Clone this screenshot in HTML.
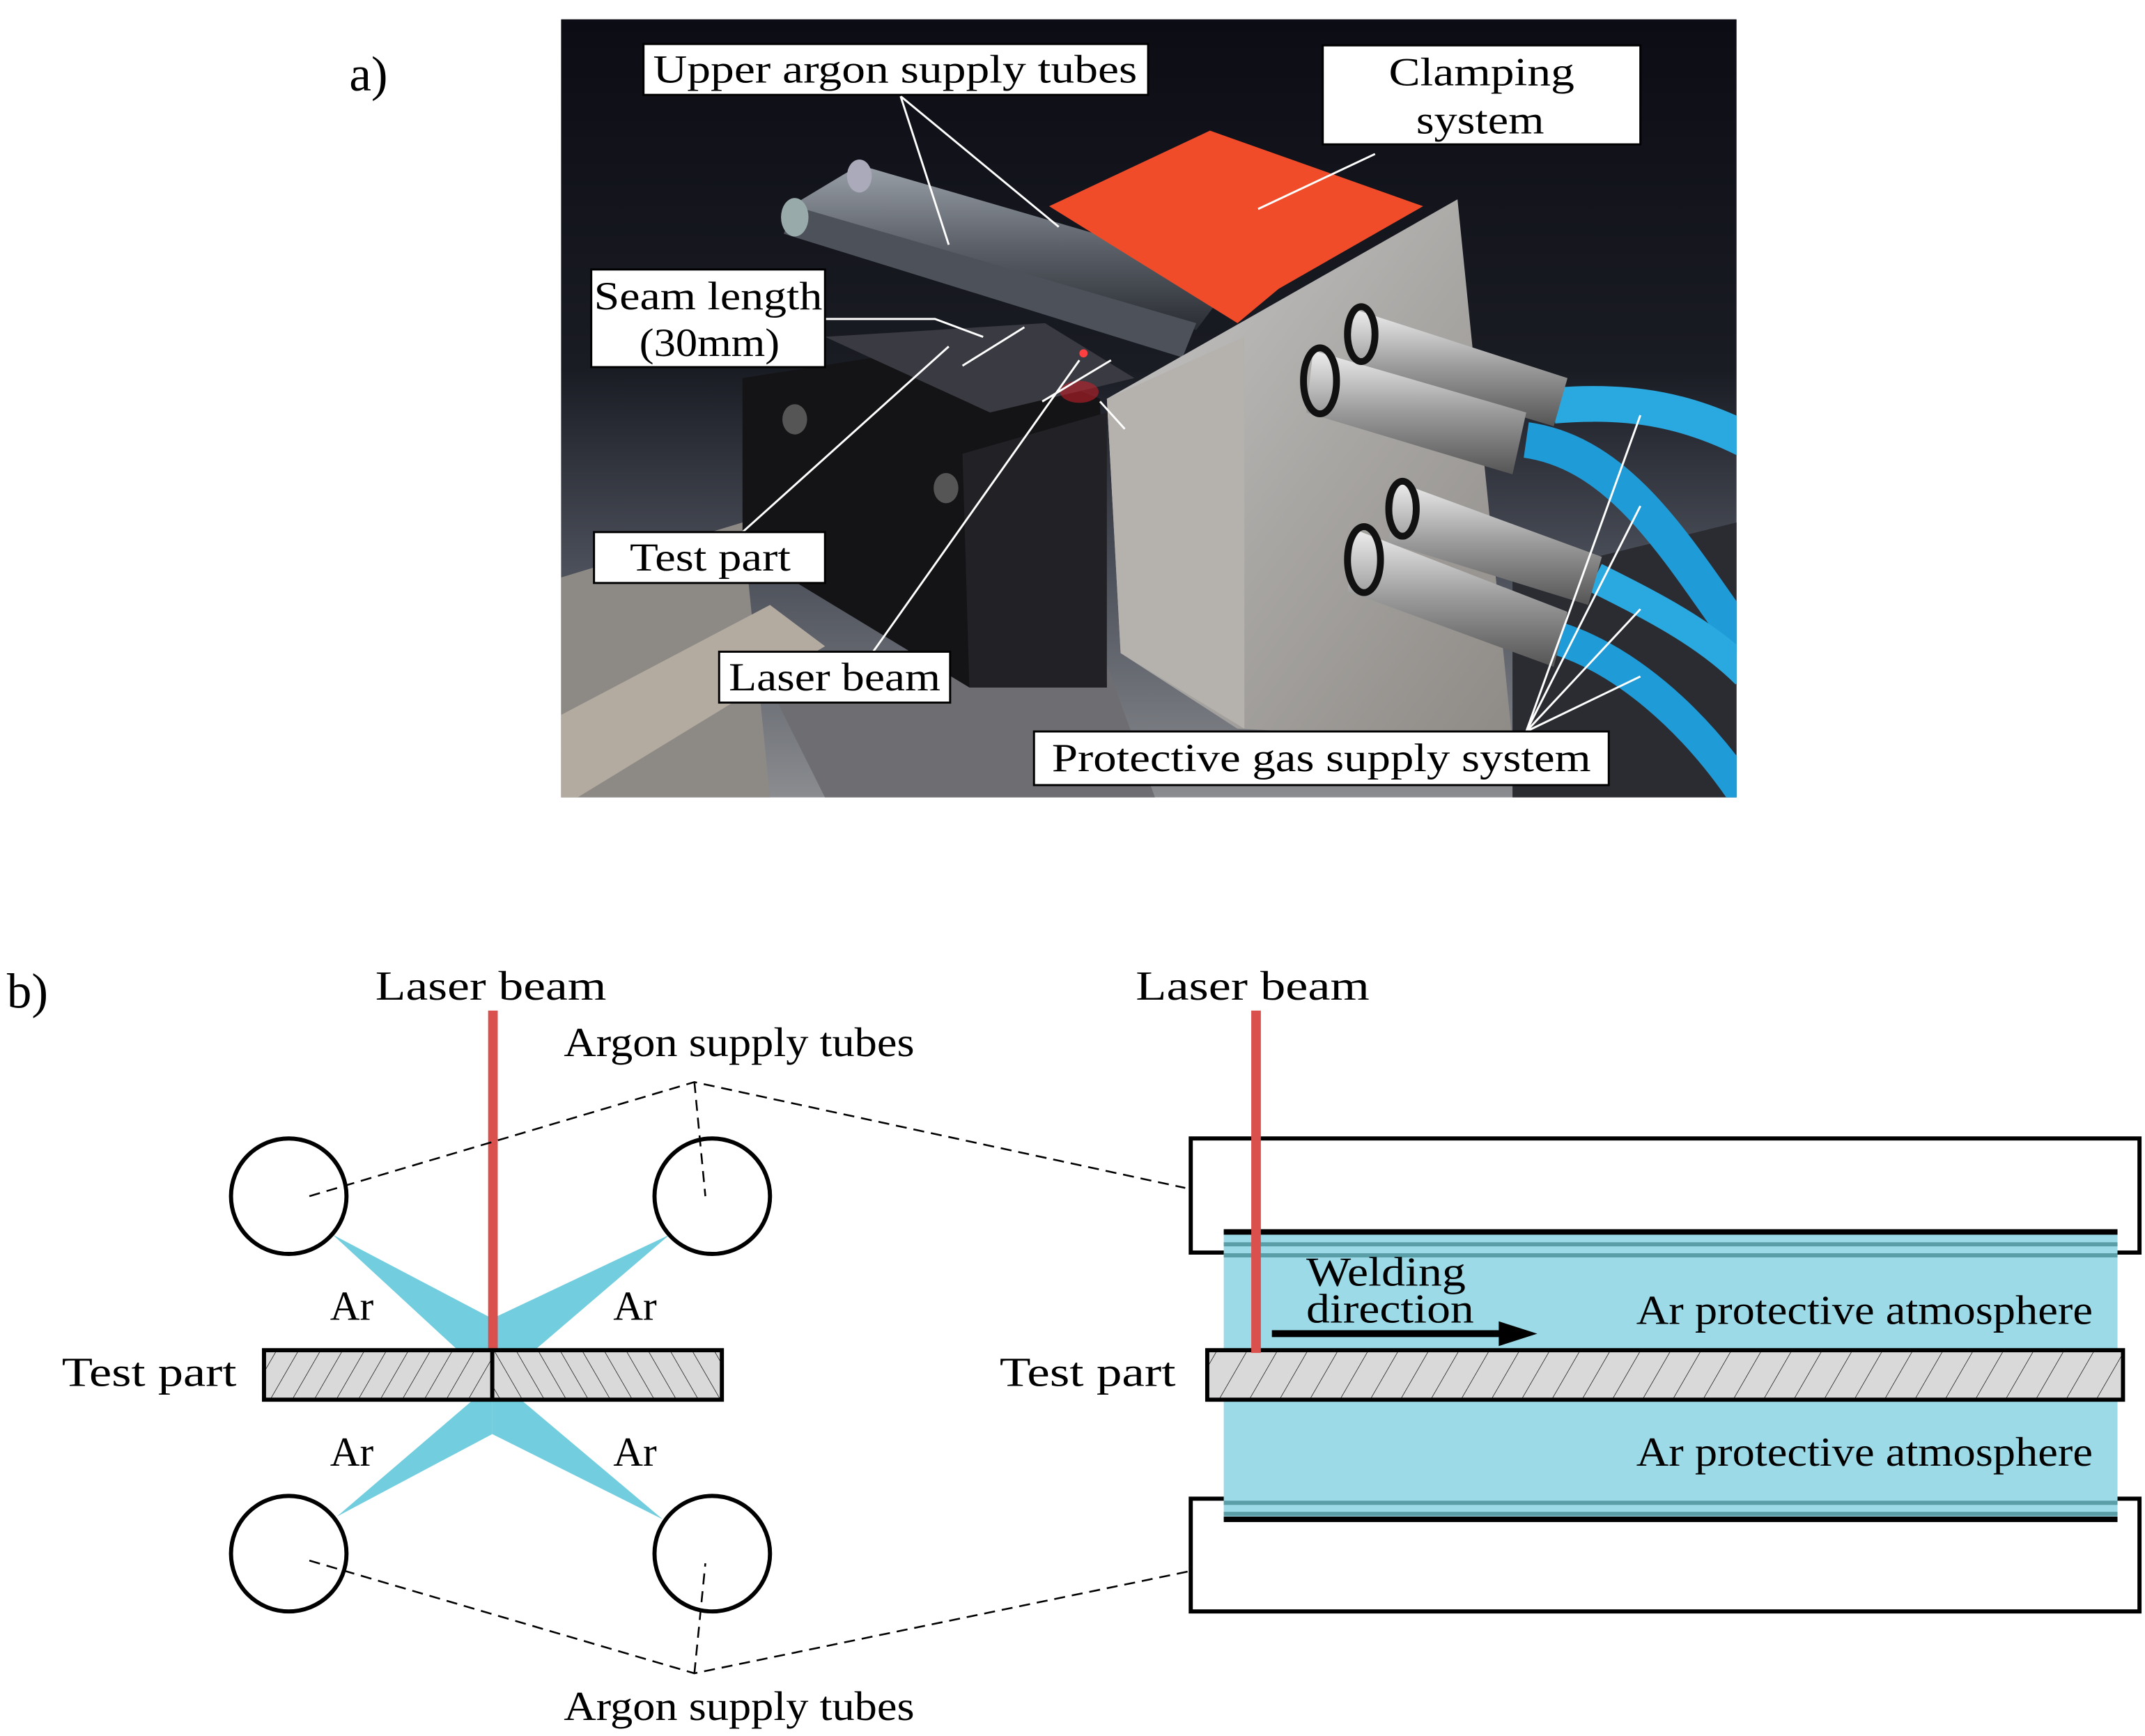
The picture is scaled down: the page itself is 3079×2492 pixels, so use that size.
<!DOCTYPE html>
<html><head><meta charset="utf-8"><style>
html,body{margin:0;padding:0;background:#fff}
svg{display:block}
text{font-family:"Liberation Serif",serif;fill:#000}
</style></head><body>
<svg width="3079" height="2492" viewBox="0 0 1560 1262.6" preserveAspectRatio="none" xmlns="http://www.w3.org/2000/svg">
<defs>
<linearGradient id="bg" x1="0" y1="0" x2="0" y2="1">
<stop offset="0" stop-color="#0c0c14"/><stop offset="0.45" stop-color="#1a1c24"/><stop offset="0.7" stop-color="#4a4e58"/><stop offset="1" stop-color="#8a8c90"/></linearGradient>
<linearGradient id="al" x1="0" y1="0" x2="1" y2="1">
<stop offset="0" stop-color="#c8c8c8"/><stop offset="0.5" stop-color="#a9a7a4"/><stop offset="1" stop-color="#8e8a86"/></linearGradient>
<linearGradient id="tube" x1="0" y1="0" x2="0" y2="1">
<stop offset="0" stop-color="#9aa0a8"/><stop offset="0.5" stop-color="#5b6068"/><stop offset="1" stop-color="#2a2d33"/></linearGradient>
<linearGradient id="con" x1="0" y1="0" x2="0" y2="1">
<stop offset="0" stop-color="#eeeeee"/><stop offset="0.5" stop-color="#9a9a9a"/><stop offset="1" stop-color="#555"/></linearGradient>
<pattern id="h1" width="16" height="36" patternUnits="userSpaceOnUse" patternTransform="skewX(-30)"><line x1="0" y1="0" x2="0" y2="36" stroke="#000" stroke-width="0.8"/></pattern>
<pattern id="h2" width="16" height="36" patternUnits="userSpaceOnUse" patternTransform="skewX(30)"><line x1="0" y1="0" x2="0" y2="36" stroke="#000" stroke-width="0.8"/></pattern>
<pattern id="h3" width="22" height="36" patternUnits="userSpaceOnUse" patternTransform="skewX(-30)"><line x1="0" y1="0" x2="0" y2="36" stroke="#000" stroke-width="0.8"/></pattern>
<clipPath id="ph"><rect x="408" y="14" width="855" height="566"/></clipPath>
</defs>

<!-- a) photo -->
<text x="254" y="66" font-size="36">a)</text>
<g clip-path="url(#ph)">
<rect x="408" y="14" width="855" height="566" fill="url(#bg)"/>
<polygon points="408,420 540,380 560,580 408,580" fill="#8d8a86"/>
<polygon points="408,520 560,440 600,470 420,580 408,580" fill="#b3aba0"/>
<polygon points="560,500 800,470 840,580 600,580" fill="#6e6e72"/>
<polygon points="1100,420 1263,380 1263,580 1100,580" fill="#2a2c32"/>
<polygon points="540,275 700,250 800,290 805,500 705,500 540,400" fill="#141416"/>
<polygon points="700,330 805,300 805,500 705,500" fill="#222226"/>
<ellipse cx="578" cy="305" rx="9" ry="11" fill="#555"/><ellipse cx="688" cy="355" rx="9" ry="11" fill="#555"/>
<polygon points="600,245 760,235 825,275 720,300" fill="#3a3a42"/>
<polygon points="575,150 625,120 900,200 870,240" fill="url(#tube)"/>
<polygon points="578,150 870,235 860,260 570,170" fill="#4d525a"/>
<ellipse cx="578" cy="158" rx="10" ry="14" fill="#9aa"/>
<ellipse cx="625" cy="128" rx="9" ry="12" fill="#aab"/>
<polygon points="763,150 880,95 1035,150 930,210 900,235" fill="#f04c2a"/>
<polygon points="805,290 1060,145 1100,540 900,530 815,475" fill="url(#al)"/>
<polygon points="805,290 905,245 905,530 815,475" fill="#b5b2ae"/>
<path d="M1130,295 C1190,290 1230,300 1270,320" stroke="#2aa8e0" stroke-width="26" fill="none"/>
<path d="M1110,320 C1180,330 1220,400 1270,470" stroke="#1f9bd8" stroke-width="26" fill="none"/>
<path d="M1160,420 C1200,440 1240,460 1270,490" stroke="#2aa8e0" stroke-width="22" fill="none"/>
<path d="M1135,465 C1180,480 1230,520 1270,580" stroke="#1f9bd8" stroke-width="24" fill="none"/>
<g fill="url(#con)">
<polygon points="985,225 1140,275 1130,310 980,265"/>
<polygon points="955,255 1110,300 1100,345 950,300"/>
<polygon points="1015,350 1165,405 1155,440 1010,395"/>
<polygon points="985,385 1140,445 1130,485 980,430"/>
</g>
<g fill="none" stroke="#111" stroke-width="5">
<ellipse cx="990" cy="243" rx="10" ry="20"/><ellipse cx="960" cy="277" rx="12" ry="24"/>
<ellipse cx="1020" cy="370" rx="10" ry="20"/><ellipse cx="992" cy="407" rx="12" ry="24"/>
</g>
<circle cx="788" cy="257" r="3" fill="#ff4040"/><ellipse cx="785" cy="285" rx="14" ry="8" fill="#c0202a" opacity="0.6"/>
</g>
<g stroke="#fff" stroke-width="1.5" fill="#fff">
<line x1="655" y1="70" x2="690" y2="178"/><line x1="655" y1="70" x2="770" y2="165"/>
<line x1="1000" y1="112" x2="915" y2="152"/>
<polyline fill="none" points="600,232 680,232 715,245"/>
<line x1="540" y1="387" x2="690" y2="252"/>
<line x1="635" y1="474" x2="785" y2="262"/>
<line x1="700" y1="266" x2="745" y2="238"/><line x1="758" y1="292" x2="808" y2="262"/>
<line x1="800" y1="292" x2="818" y2="312"/>
<line x1="1110" y1="532" x2="1193" y2="302"/><line x1="1110" y1="532" x2="1193" y2="368"/>
<line x1="1110" y1="532" x2="1193" y2="443"/><line x1="1110" y1="532" x2="1193" y2="492"/>
</g>
<g fill="#fff" stroke="#000" stroke-width="1.5">
<rect x="468" y="32" width="367" height="37"/>
<rect x="962" y="33" width="231" height="72"/>
<rect x="430" y="196" width="170" height="71"/>
<rect x="432" y="387" width="168" height="37"/>
<rect x="523" y="474" width="168" height="37"/>
<rect x="752" y="532" width="418" height="39"/>
</g>
<g font-size="29">
<text x="475" y="60" textLength="352" lengthAdjust="spacingAndGlyphs">Upper argon supply tubes</text>
<text x="1010" y="62" textLength="135" lengthAdjust="spacingAndGlyphs">Clamping</text>
<text x="1030" y="97" textLength="93" lengthAdjust="spacingAndGlyphs">system</text>
<text x="432" y="225" textLength="166" lengthAdjust="spacingAndGlyphs">Seam length</text>
<text x="465" y="259" textLength="102" lengthAdjust="spacingAndGlyphs">(30mm)</text>
<text x="458" y="415" textLength="117" lengthAdjust="spacingAndGlyphs">Test part</text>
<text x="530" y="502" textLength="154" lengthAdjust="spacingAndGlyphs">Laser beam</text>
<text x="765" y="561" textLength="392" lengthAdjust="spacingAndGlyphs">Protective gas supply system</text>
</g>

<!-- b) left -->
<text x="5" y="733" font-size="36">b)</text>
<g font-size="30">
<text x="273" y="727" textLength="168" lengthAdjust="spacingAndGlyphs">Laser beam</text>
<text x="410" y="768" textLength="255" lengthAdjust="spacingAndGlyphs">Argon supply tubes</text>
<text x="410" y="1251" textLength="255" lengthAdjust="spacingAndGlyphs">Argon supply tubes</text>
<text x="45" y="1008" textLength="127" lengthAdjust="spacingAndGlyphs">Test part</text>
<text x="240" y="960">Ar</text><text x="446" y="960">Ar</text>
<text x="240" y="1066">Ar</text><text x="446" y="1066">Ar</text>
</g>
<g fill="#72cede">
<polygon points="242,898 358,959 358,985 333,982"/>
<polygon points="487,898 358,959 358,985 390,981"/>
<polygon points="245,1103 358,1043 358,1018 343,1019"/>
<polygon points="482,1105 358,1043 358,1018 380,1019"/>
</g>
<rect x="355" y="735" width="7" height="250" fill="#d9504d"/>
<rect x="192" y="982" width="166" height="36" fill="#d9d9d9"/>
<rect x="192" y="982" width="166" height="36" fill="url(#h1)"/>
<rect x="358" y="982" width="167" height="36" fill="#d9d9d9"/>
<rect x="358" y="982" width="167" height="36" fill="url(#h2)"/>
<rect x="192" y="982" width="333" height="36" fill="none" stroke="#000" stroke-width="3"/>
<line x1="358" y1="982" x2="358" y2="1018" stroke="#000" stroke-width="3"/>
<g fill="none" stroke="#000" stroke-width="3">
<circle cx="210" cy="870" r="42"/><circle cx="518" cy="870" r="42"/>
<circle cx="210" cy="1130" r="42"/><circle cx="518" cy="1130" r="42"/>
</g>
<g fill="none" stroke="#000" stroke-width="1.3" stroke-dasharray="8,5">
<polyline points="225,870 505,787 862,864"/><line x1="505" y1="787" x2="513" y2="870"/>
<polyline points="225,1135 505,1217 893,1137"/><line x1="505" y1="1217" x2="513" y2="1137"/>
</g>

<!-- b) right -->
<rect x="866" y="828" width="690" height="83" fill="#fff" stroke="#000" stroke-width="3"/>
<rect x="866" y="1090" width="690" height="82" fill="#fff" stroke="#000" stroke-width="3"/>
<rect x="890" y="895" width="650" height="210" fill="#9bdae6"/>
<g stroke="#5a9ea8" stroke-width="3">
<line x1="890" y1="905" x2="1540" y2="905"/><line x1="890" y1="913" x2="1540" y2="913"/>
<line x1="890" y1="1093" x2="1540" y2="1093"/><line x1="890" y1="1101" x2="1540" y2="1101"/>
</g>
<line x1="890" y1="896" x2="1540" y2="896" stroke="#000" stroke-width="4"/>
<line x1="890" y1="1105" x2="1540" y2="1105" stroke="#000" stroke-width="4"/>
<rect x="878" y="982" width="666" height="36" fill="#d9d9d9"/>
<rect x="878" y="982" width="666" height="36" fill="url(#h3)"/>
<rect x="878" y="982" width="666" height="36" fill="none" stroke="#000" stroke-width="3"/>
<rect x="910" y="735" width="7" height="249" fill="#d9504d"/>
<line x1="925" y1="970" x2="1092" y2="970" stroke="#000" stroke-width="5"/>
<polygon points="1090,961 1118,970 1090,979" fill="#000"/>
<g font-size="30">
<text x="826" y="727" textLength="170" lengthAdjust="spacingAndGlyphs">Laser beam</text>
<text x="727" y="1008" textLength="128" lengthAdjust="spacingAndGlyphs">Test part</text>
<text x="1190" y="963" textLength="332" lengthAdjust="spacingAndGlyphs">Ar protective atmosphere</text>
<text x="1190" y="1066" textLength="332" lengthAdjust="spacingAndGlyphs">Ar protective atmosphere</text>
<text x="950" y="935" textLength="116" lengthAdjust="spacingAndGlyphs">Welding</text>
<text x="950" y="962" textLength="122" lengthAdjust="spacingAndGlyphs">direction</text>
</g>
</svg>
</body></html>
